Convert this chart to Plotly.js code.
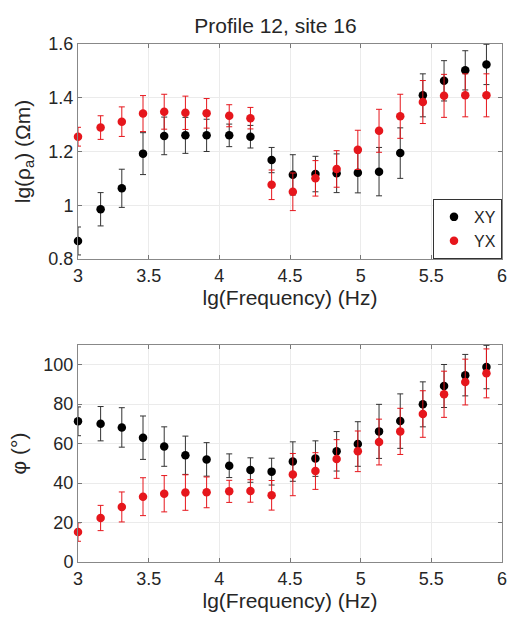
<!DOCTYPE html>
<html><head><meta charset="utf-8">
<script src="https://cdn.plot.ly/plotly-3.0.1.min.js"></script>
<style>html,body{margin:0;padding:0;background:#fff}#g{width:512px;height:618px}</style>
</head><body><div id="g"></div>
<script>
const logFreq = [3.0,3.16,3.31,3.46,3.61,3.76,3.91,4.07,4.22,4.37,4.52,4.68,4.83,4.98,5.13,5.28,5.44,5.59,5.74,5.89];
const rhoXY = [0.867,0.985,1.063,1.192,1.258,1.260,1.260,1.260,1.255,1.168,1.113,1.116,1.119,1.121,1.125,1.194,1.409,1.463,1.502,1.524];
const rhoXYErr = [0.052,0.062,0.071,0.078,0.070,0.067,0.060,0.042,0.042,0.047,0.075,0.066,0.072,0.075,0.090,0.094,0.080,0.075,0.073,0.075];
const rhoYX = [1.255,1.289,1.311,1.341,1.348,1.344,1.342,1.333,1.324,1.076,1.050,1.100,1.135,1.206,1.277,1.331,1.384,1.407,1.409,1.409];
const rhoYXErr = [0.035,0.044,0.055,0.067,0.065,0.062,0.055,0.041,0.040,0.055,0.070,0.066,0.068,0.073,0.080,0.082,0.080,0.080,0.080,0.080];
const phiXY = [71.3,70.1,68.2,63.0,58.5,54.1,52.0,48.8,46.6,45.8,50.9,52.4,56.1,59.8,66.2,71.4,79.9,89.2,94.7,98.8];
const phiXYErr = [7.3,8.7,10,11,10,9.7,8.5,6,6.2,6.8,10,9,10,11.3,13.7,13.8,11.4,10.9,10.5,11];
const phiYX = [15.2,22.3,27.9,33.1,34.6,35.2,35.3,35.8,36.0,33.8,44.3,46.1,52.2,56.1,60.8,66.2,75.0,85.0,91.2,95.6];
const phiYXErr = [4.7,6.4,7.6,9.6,9.2,9.0,7.8,5.6,5.7,7.5,10.7,9.3,9.8,10.3,11.6,11.7,11.8,11.7,11.6,12.4];
const xTicks = [3,3.5,4,4.5,5,5.5,6];
const xTickText = ['3','3.5','4','4.5','5','5.5','6'];
const rhoTicks = [0.8,1,1.2,1.4,1.6];
const rhoTickText = ['0.8','1','1.2','1.4','1.6'];
const phiTicks = [0,20,40,60,80,100];
const phiTickText = ['0','20','40','60','80','100'];

const RED = '#e6161c';
function tr(x,y,e,color,name,xa,ya,show){
  return {x:x,y:y,type:'scatter',mode:'markers',name:name,xaxis:xa,yaxis:ya,showlegend:show,cliponaxis:false,
    marker:{color:color,size:8.5},
    error_y:{type:'data',array:e,visible:true,color:color==='#000'?'#333':RED,thickness:1,width:3}};
}
const data = [
  tr(logFreq,rhoXY,rhoXYErr,'#000','XY','x','y',true),
  tr(logFreq,rhoYX,rhoYXErr,RED,'YX','x','y',true),
  tr(logFreq,phiXY,phiXYErr,'#000','XY','x2','y2',false),
  tr(logFreq,phiYX,phiYXErr,RED,'YX','x2','y2',false)
];
const TXT = '#262626';
const font = {family:'Liberation Sans, Arial, sans-serif',size:18,color:TXT};
function xax(anchor){
  return {anchor:anchor,range:[3,6],tickvals:xTicks,ticktext:xTickText,ticks:'inside',ticklen:4,tickcolor:'#777',
    showline:true,linecolor:'#888',linewidth:1,mirror:'ticks',showgrid:true,gridcolor:'#ebebeb',zeroline:false,
    tickfont:{size:18,color:TXT},automargin:false,
    title:{text:'lg(Frequency) (Hz)',font:{size:21,color:TXT},standoff:3}};
}
const layout = {
  width:512,height:618,paper_bgcolor:'#fff',plot_bgcolor:'#fff',font:font,
  margin:{l:78,r:10,t:44,b:56},
  title:{text:'Profile 12, site 16',x:0.538,xanchor:'center',y:0.958,yanchor:'middle',font:{size:21,color:TXT}},
  xaxis:Object.assign(xax('y'),{domain:[0,1]}),
  xaxis2:Object.assign(xax('y2'),{domain:[0,1]}),
  yaxis:{domain:[0.585,1],anchor:'x',range:[0.8,1.6],tickvals:rhoTicks,ticktext:rhoTickText,ticks:'inside',ticklen:4,tickcolor:'#777',
    showline:true,linecolor:'#888',mirror:'ticks',showgrid:true,gridcolor:'#ebebeb',zeroline:false,tickfont:{size:18,color:TXT},automargin:false,
    title:{text:'lg(ρ<sub>a</sub>) (Ωm)',font:{size:21,color:TXT},standoff:12}},
  yaxis2:{domain:[0,0.419],anchor:'x2',range:[0,110],tickvals:phiTicks,ticktext:phiTickText,ticks:'inside',ticklen:4,tickcolor:'#777',
    showline:true,linecolor:'#888',mirror:'ticks',showgrid:true,gridcolor:'#ebebeb',zeroline:false,tickfont:{size:18,color:TXT},automargin:false,
    title:{text:'φ (°)',font:{size:21,color:TXT},standoff:10}},
  legend:{x:1,xanchor:'right',y:0.585,yanchor:'bottom',bgcolor:'#fff',bordercolor:'#333',borderwidth:1,
    font:{size:16,color:TXT},itemwidth:30,tracegroupgap:0}
};
Plotly.newPlot('g',data,layout,{staticPlot:true});
</script></body></html>
